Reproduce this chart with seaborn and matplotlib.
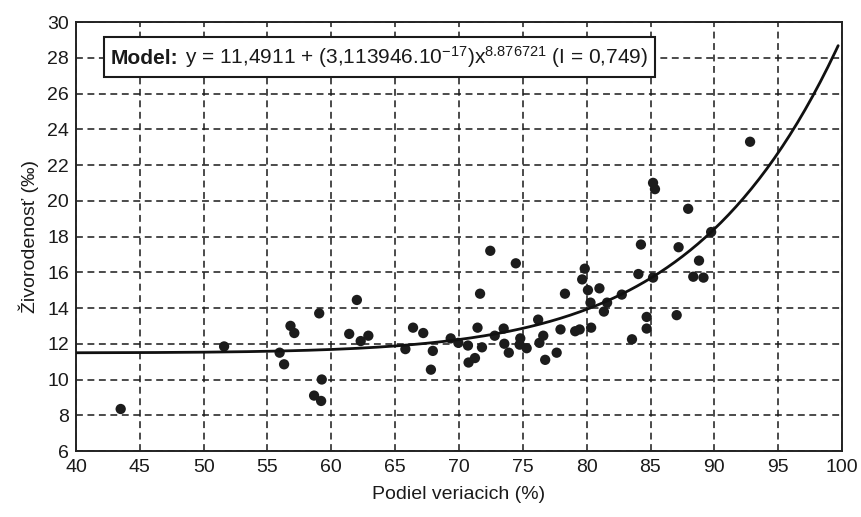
import numpy as np
import pandas as pd
import matplotlib
matplotlib.use("Agg")
import matplotlib.pyplot as plt
import seaborn as sns
from matplotlib.offsetbox import TextArea, HPacker, AnnotationBbox

# ---- data ----
podiel = [43.5, 51.6, 55.95, 56.3, 56.8, 57.1, 58.65, 59.05, 59.2, 59.25,
          61.4, 62.0, 62.3, 62.9, 65.8, 66.4, 67.2, 67.8, 67.95, 69.35,
          69.95, 70.7, 70.75, 71.25, 71.45, 71.65, 71.8, 72.45, 72.8, 73.5,
          73.55, 73.9, 74.45, 74.75, 74.8, 75.3, 76.2, 76.3, 76.6, 76.75,
          77.65, 77.95, 78.3, 79.1, 79.45, 79.65, 79.85, 80.1, 80.3, 80.35,
          81.0, 81.35, 81.6, 82.75, 83.55, 84.05, 84.25, 84.7, 84.7, 85.2,
          85.2, 85.35, 87.05, 87.2, 87.95, 88.35, 88.8, 89.15, 89.75, 92.8]
zivorodenost = [8.35, 11.85, 11.5, 10.85, 13.0, 12.6, 9.1, 13.7, 8.8, 10.0,
                12.55, 14.45, 12.15, 12.45, 11.7, 12.9, 12.6, 10.55, 11.6, 12.3,
                12.05, 11.9, 10.95, 11.2, 12.9, 14.8, 11.8, 17.2, 12.45, 12.85,
                12.0, 11.5, 16.5, 11.95, 12.3, 11.75, 13.35, 12.05, 12.45, 11.1,
                11.5, 12.8, 14.8, 12.7, 12.8, 15.6, 16.2, 15.0, 14.3, 12.9,
                15.1, 13.8, 14.3, 14.75, 12.25, 15.9, 17.55, 13.5, 12.85, 15.7,
                21.0, 20.65, 13.6, 17.4, 19.55, 15.75, 16.65, 15.7, 18.25, 23.3]

# model stated in the chart: y = a + b * x^c
model_a = 11.4911
model_b = 3.113946e-17
model_c = 8.876721
model_x_range = [40, 99.7]

x_ticks = [40, 45, 50, 55, 60, 65, 70, 75, 80, 85, 90, 95, 100]
y_ticks = [6, 8, 10, 12, 14, 16, 18, 20, 22, 24, 26, 28, 30]

x_label = "Podiel veriacich (%)"
y_label = "Živorodenosť (‰)"
model_title = "Model:"
model_text = r"y = 11,4911 + (3,113946.10$^{-17}$)x$^{8.876721}$ (I = 0,749)"

# ---- styling ----
sns.set_theme(style="white")
plt.rcParams["font.family"] = ["Liberation Sans", "DejaVu Sans"]
plt.rcParams["mathtext.fontset"] = "custom"
plt.rcParams["mathtext.rm"] = "Liberation Sans"
plt.rcParams["mathtext.it"] = "Liberation Sans"
plt.rcParams["mathtext.bf"] = "Liberation Sans:bold"
plt.rcParams["mathtext.default"] = "regular"

fig = plt.figure(figsize=(8.62, 5.17), dpi=100)
ax = fig.add_axes([76 / 862, 1 - 451 / 517, (842 - 76) / 862, (451 - 22) / 517])

df = pd.DataFrame({"x": podiel, "y": zivorodenost})
sns.scatterplot(data=df, x="x", y="y", ax=ax, color="#1c1c1c", s=55,
                edgecolor="none", zorder=3)

xs = np.linspace(model_x_range[0], model_x_range[1], 300)
curve = pd.DataFrame({"x": xs, "y": model_a + model_b * xs ** model_c})
sns.lineplot(data=curve, x="x", y="y", ax=ax, color="#111111", lw=2.0,
             zorder=4)

ax.set_xlim(40, 100)
ax.set_ylim(6, 30)
ax.set_xticks(x_ticks)
ax.set_yticks(y_ticks)
ax.tick_params(axis="x", direction="in", length=5, width=1, color="black",
               labelsize=14, pad=6, labelcolor="#1a1a1a")
ax.tick_params(axis="y", direction="in", length=0, labelsize=14, pad=5,
               labelcolor="#1a1a1a")
ax.grid(True, color="#1a1a1a", linestyle=(0, (4.5, 3)), linewidth=1.1)
for sp in ax.spines.values():
    sp.set_color("#222222")
    sp.set_linewidth(1.4)

ax.set_xlabel(x_label, fontsize=14, labelpad=7, color="#1a1a1a")
ax.set_ylabel(y_label, fontsize=14, labelpad=6, color="#1a1a1a")

ta1 = TextArea(model_title, textprops=dict(fontsize=15, fontweight="bold",
                                           color="#1a1a1a"))
ta2 = TextArea(model_text, textprops=dict(fontsize=15, color="#1a1a1a"))
pack = HPacker(children=[ta1, ta2], align="baseline", pad=0, sep=5)
ab = AnnotationBbox(pack, (42.72, 28.05), xycoords="data",
                    box_alignment=(0, 0.5), frameon=True, pad=0.45,
                    zorder=5,
                    bboxprops=dict(boxstyle="square,pad=0.45",
                                   facecolor="white", edgecolor="#1a1a1a",
                                   linewidth=1.5))
ax.add_artist(ab)

fig.savefig("out.png", dpi=100, facecolor="white")
